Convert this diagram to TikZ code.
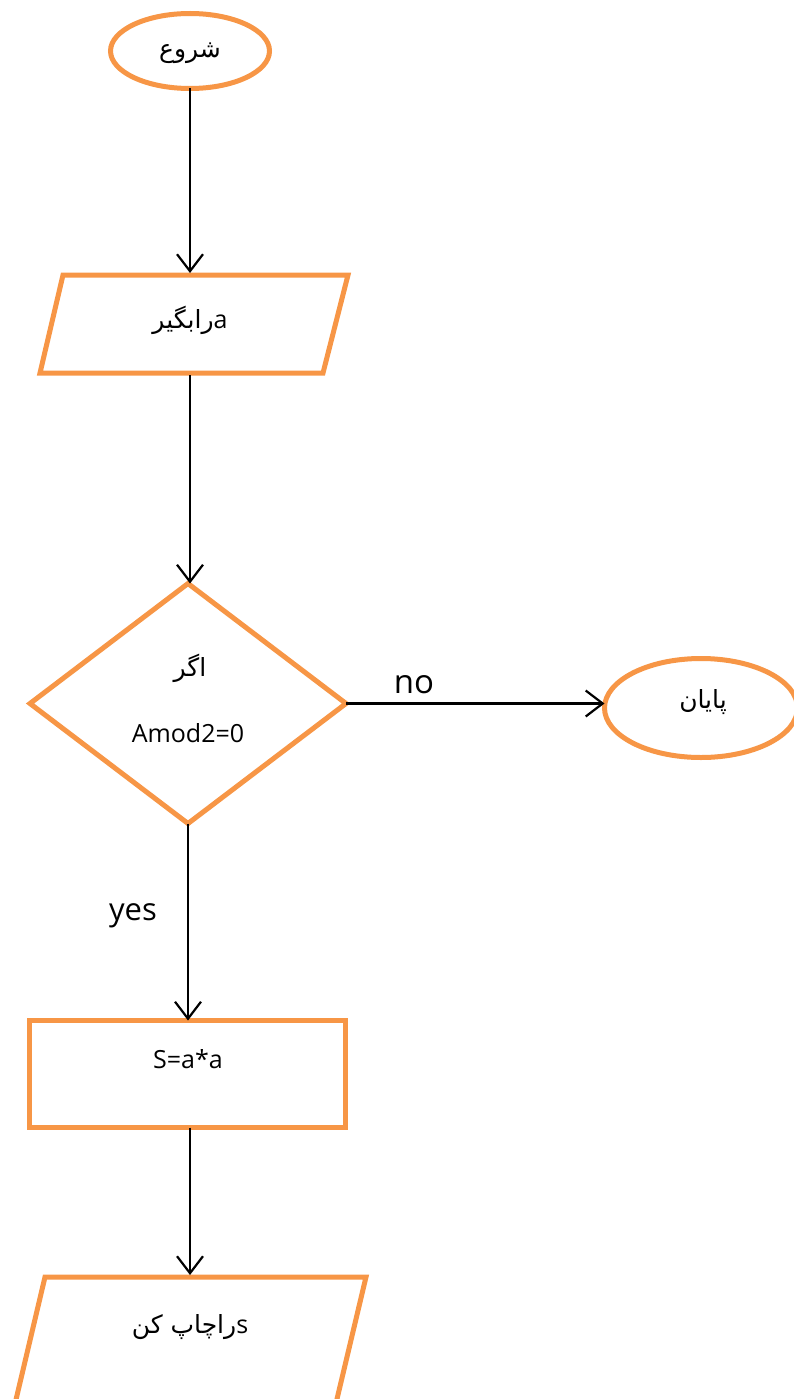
\documentclass[tikz,border=0pt]{standalone}
\usepackage{fontspec}
\setmainfont{Open Sans}
\newfontfamily\arabicfont[Script=Arabic]{DejaVu Sans}
\TeXXeTstate=1
\usetikzlibrary{shapes.geometric,arrows.meta}
\definecolor{flow}{HTML}{F79646}

\tikzset{
  box/.style={draw=flow, line width=5pt, fill=white, inner sep=0pt, outer sep=0pt},
  terminal/.style={box, ellipse},
  decision/.style={box, diamond},
  process/.style={box, rectangle},
  io/.style={draw=flow, line width=5pt, fill=white, line join=miter},
  flowline/.style={draw=black, line width=2.2pt, -{Straight Barb[length=17pt,width=26pt,line width=2.2pt]}},
  txt/.style={inner sep=0pt, font=\fontsize{25}{30}\selectfont},
  artxt/.style={inner sep=0pt, font=\fontsize{25}{30}\selectfont\arabicfont},
}

\begin{document}
\begin{tikzpicture}[x=1pt, y=-1pt]
  \useasboundingbox (0,0) rectangle (794,1399);
  \clip (0,0) rectangle (794,1399);

  % start
  \node[terminal, minimum width=159pt, minimum height=75pt] (start) at (190,51) {};
  \node[artxt] (starttxt) at (190,53) {\beginR شروع\endR};

  % read a
  \draw[io] (63,275) -- (348,275) -- (323,373) -- (40,373) -- cycle;
  \coordinate (readtop) at (190,273);
  \coordinate (readbot) at (190,375);
  \node[artxt] (readtxt) at (190,320) {\beginR\hbox{\fontspec{Open Sans}a}رابگیر\endR};

  % decision
  \node[decision, minimum width=316pt, minimum height=240pt] (dec) at (188,703.5) {};
  \node[artxt] (dectxt1) at (190,668) {\beginR اگر\endR};
  \node[txt] (dectxt2) at (188,733) {Amod2=0};

  % end
  \node[terminal, minimum width=193pt, minimum height=99pt] (stop) at (701,708) {};
  \node[artxt] (stoptxt) at (703,702) {\beginR پایان\endR};

  % process
  \node[process, minimum width=316pt, minimum height=107pt] (calc) at (187.5,1074) {};
  \node[txt] (calctxt) at (188,1059) {S=a*a};

  % print
  \draw[io] (45,1277) -- (366,1277) -- (337,1399) -- (331,1425) -- (10,1425) -- cycle;
  \coordinate (printtop) at (190,1275);
  \node[artxt] (printtxt) at (190,1327) {\beginR\hbox{\fontspec{Open Sans}s}راچاپ کن\endR};

  % connectors
  \draw[flowline] (start.south -| readtop) -- (readtop);
  \draw[flowline] (readbot) -- (readbot |- dec.north);
  \draw[flowline] (dec.east) -- (dec.east -| stop.west);
  \draw[flowline] (dec.south) -- (calc.north -| dec.south);
  \draw[flowline] (calc.south -| printtop) -- (printtop);

  % branch labels
  \node[inner sep=0pt, font=\fontsize{33}{38}\selectfont] (no) at (414,685) {no};
  \node[inner sep=0pt, font=\fontsize{31}{36}\selectfont] (yes) at (133,916) {yes};
\end{tikzpicture}
\end{document}
